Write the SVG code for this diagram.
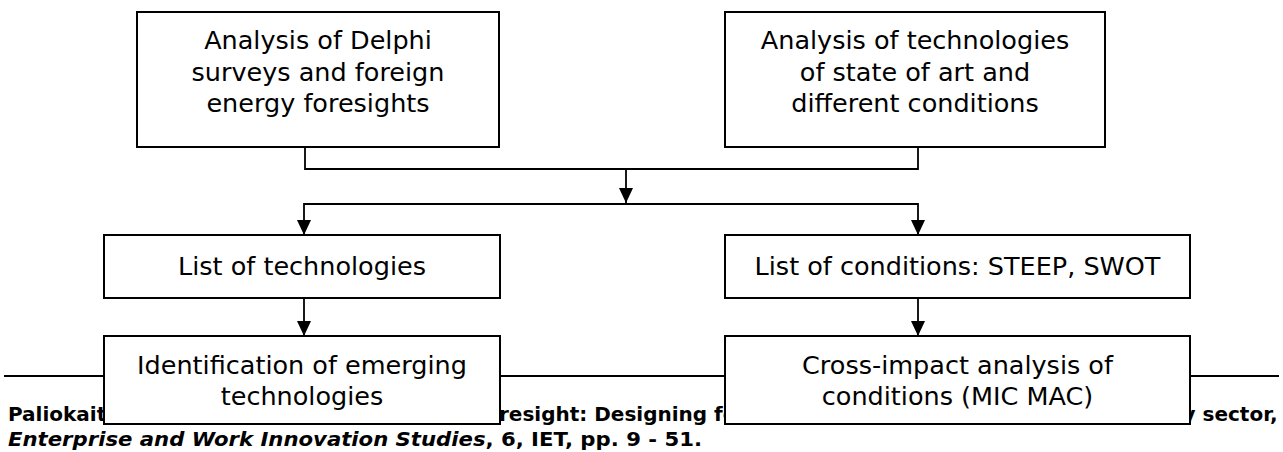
<svg xmlns="http://www.w3.org/2000/svg" width="1283" height="452" viewBox="0 0 1283 452">
  <defs>
    <style>
      .box { fill: #ffffff; stroke: #000000; stroke-width: 2; }
      .label { font-family: "DejaVu Sans", Verdana, sans-serif; font-size: 25.5px; fill: #000000; text-anchor: middle; }
      .link { fill: none; stroke: #000000; stroke-width: 1.8; }
      .rule { stroke: #000000; stroke-width: 2; }
      .cite { font-family: "DejaVu Sans", Verdana, sans-serif; font-size: 20px; font-weight: bold; fill: #000000; }
    </style>
    <marker id="arrow" viewBox="0 0 15 14" refX="15" refY="7" markerWidth="15" markerHeight="14" markerUnits="userSpaceOnUse" orient="auto">
      <path d="M0,0 L15,7 L0,14 Z" fill="#000000"/>
    </marker>
  </defs>

  <!-- page rule and citation, partly covered by the lower boxes -->
  <g id="footer">
    <line class="rule" x1="4" y1="376" x2="1279" y2="376"/>
    <text class="cite" y="421"><tspan x="8">Paliokaitė, A. (2010), Energy technology fo</tspan><tspan x="499">resight: Designing foresight methodology for Lithuanian</tspan><tspan x="1117">energy sector,</tspan></text>
    <text class="cite" x="8" y="446" textLength="694" lengthAdjust="spacingAndGlyphs"><tspan font-style="italic">Enterprise and Work Innovation Studies</tspan>, 6, IET, pp. 9 - 51.</text>
  </g>

  <!-- connectors -->
  <g id="connectors">
    <path class="link" d="M305,147 V169 H918 V147"/>
    <path class="link" d="M626,169 V203" marker-end="url(#arrow)"/>
    <path class="link" d="M626,204 H304 V235" marker-end="url(#arrow)"/>
    <path class="link" d="M626,204 H918 V235" marker-end="url(#arrow)"/>
    <path class="link" d="M304,298 V336" marker-end="url(#arrow)"/>
    <path class="link" d="M918,298 V336" marker-end="url(#arrow)"/>
  </g>

  <g id="delphi-analysis">
    <rect class="box" x="137" y="12" width="362" height="135"/>
    <text class="label" x="318" y="49">Analysis of Delphi</text>
    <text class="label" x="318" y="81">surveys and foreign</text>
    <text class="label" x="318" y="112">energy foresights</text>
  </g>

  <g id="technology-analysis">
    <rect class="box" x="725" y="12" width="380" height="135"/>
    <text class="label" x="915" y="49">Analysis of technologies</text>
    <text class="label" x="915" y="81">of state of art and</text>
    <text class="label" x="915" y="112">different conditions</text>
  </g>

  <g id="technology-list">
    <rect class="box" x="104" y="235" width="396" height="63"/>
    <text class="label" x="302" y="275">List of technologies</text>
  </g>

  <g id="condition-list">
    <rect class="box" x="725" y="235" width="465" height="63"/>
    <text class="label" x="957.5" y="275">List of conditions: STEEP, SWOT</text>
  </g>

  <g id="emerging-technologies">
    <rect class="box" x="104" y="336" width="396" height="88"/>
    <text class="label" x="302" y="374">Identification of emerging</text>
    <text class="label" x="302" y="405">technologies</text>
  </g>

  <g id="cross-impact">
    <rect class="box" x="725" y="336" width="465" height="88"/>
    <text class="label" x="957.5" y="374">Cross-impact analysis of</text>
    <text class="label" x="957.5" y="405">conditions (MIC MAC)</text>
  </g>
</svg>
